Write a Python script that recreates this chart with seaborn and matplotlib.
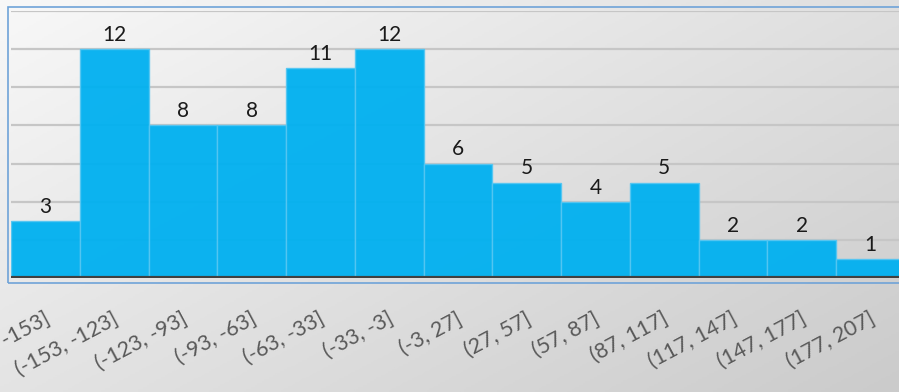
import numpy as np
import pandas as pd
import matplotlib
matplotlib.use("Agg")
import matplotlib.pyplot as plt
import matplotlib.transforms as mtransforms
from matplotlib.patches import Rectangle
import seaborn as sns

# bins and counts
bins = ["[-183, -153]", "(-153, -123]", "(-123, -93]", "(-93, -63]", "(-63, -33]",
        "(-33, -3]", "(-3, 27]", "(27, 57]", "(57, 87]", "(87, 117]",
        "(117, 147]", "(147, 177]", "(177, 207]"]
counts = [3, 12, 8, 8, 11, 12, 6, 5, 4, 5, 2, 2, 1]

df = pd.DataFrame({"bin": bins, "count": counts})

sns.set_theme(style="white")
plt.rcParams["font.family"] = ["Lato", "DejaVu Sans"]

W, H = 899, 392
fig = plt.figure(figsize=(W / 100, H / 100), dpi=100)

# gradient background over the whole figure
bg = fig.add_axes([0, 0, 1, 1], zorder=-10)
yy, xx = np.mgrid[0:1:200j, 0:1:400j]
grad = 0.55 * xx + 0.45 * yy
bg.imshow(grad, cmap=matplotlib.colors.LinearSegmentedColormap.from_list(
    "g", ["#f8f8f8", "#cbcbcb"]), aspect="auto", extent=[0, 1, 0, 1],
    origin="upper", vmin=0, vmax=1)
bg.axis("off")

# outer chart border
fig.patches.append(Rectangle((8 / W, 1 - 283 / H), 1.2, (283 - 7) / H,
                             transform=fig.transFigure, fill=False,
                             edgecolor="#6fa3d8", linewidth=1.2, zorder=-5))

ax = fig.add_axes([11 / W, 1 - 278 / H, (905 - 11) / W, (278 - 11) / H])
ax.patch.set_alpha(0)

for v in range(2, 15, 2):
    ax.axhline(v, color="#c6c6c6", lw=1.6, zorder=0)

sns.barplot(data=df, x="bin", y="count", color="#00B0F0", saturation=1,
            width=1, edgecolor="#55c6f2", linewidth=1, alpha=0.95, ax=ax, zorder=2)

ax.bar_label(ax.containers[0], fontsize=15, color="#1a1a1a", padding=3)
ax.axhline(0, color="#404040", lw=3, zorder=3)

ax.set_ylim(0, 14)
ax.set_xlim(-0.5, 12.5)
ax.set_xlabel("")
ax.set_ylabel("")
ax.set_yticks([])
for s in ax.spines.values():
    s.set_visible(False)

ax.tick_params(axis="x", length=0, pad=22, labelsize=15.5, labelcolor="#595959")
offset = mtransforms.ScaledTranslation(-2 / 100, 0, fig.dpi_scale_trans)
for lab in ax.get_xticklabels():
    lab.set_rotation(28)
    lab.set_ha("right")
    lab.set_va("top")
    lab.set_rotation_mode("anchor")
    lab.set_transform(lab.get_transform() + offset)

fig.savefig("out.png", dpi=100)
